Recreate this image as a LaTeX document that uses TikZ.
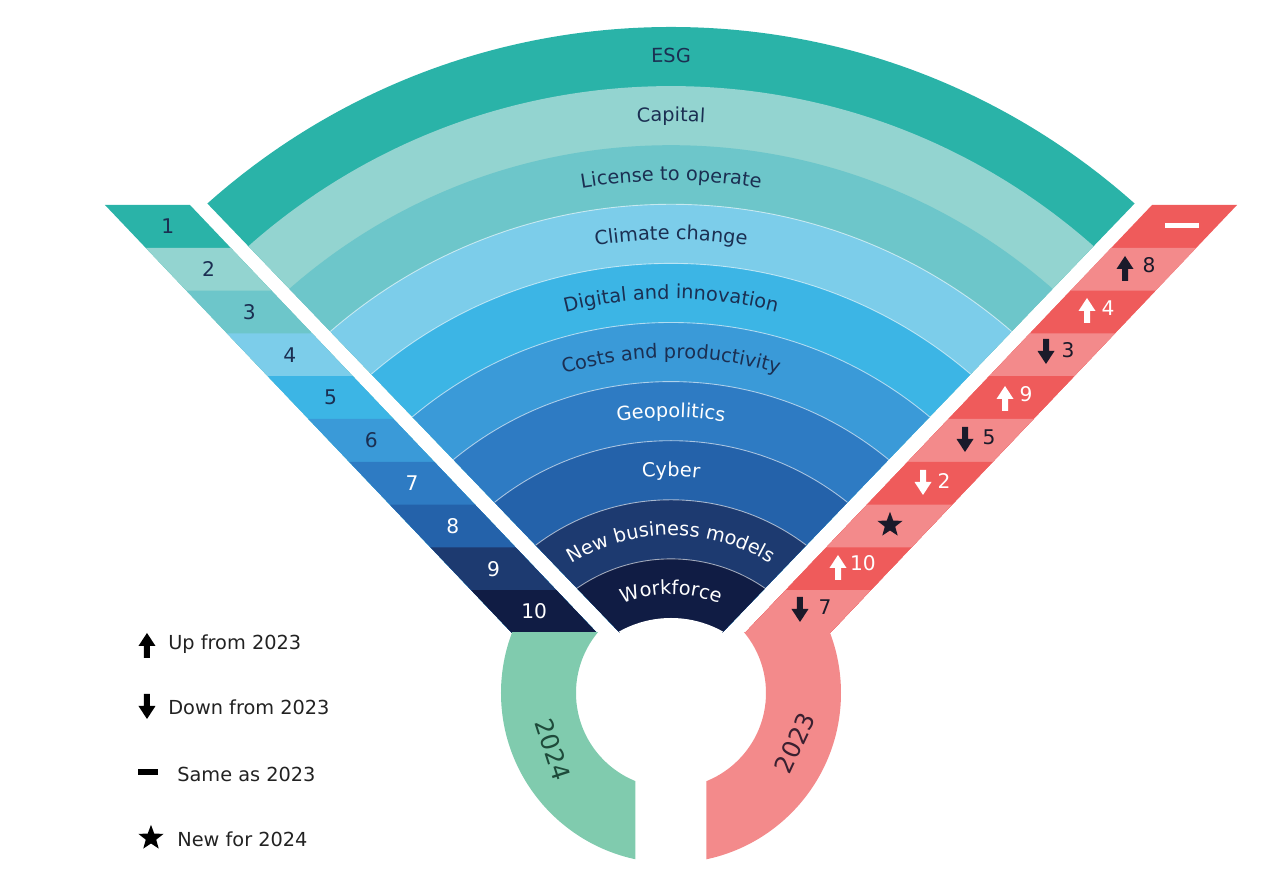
\documentclass[tikz,border=0pt]{standalone}
\usepackage{fontspec}
\setmainfont{DejaVu Sans}
\usetikzlibrary{decorations.text,shapes.geometric}
\definecolor{bA}{HTML}{2AB3A8}
\definecolor{bB}{HTML}{93D4D0}
\definecolor{bC}{HTML}{6DC6CA}
\definecolor{bD}{HTML}{7CCDEA}
\definecolor{bE}{HTML}{3CB5E5}
\definecolor{bF}{HTML}{3A9AD8}
\definecolor{bG}{HTML}{2E7BC3}
\definecolor{bH}{HTML}{2462AA}
\definecolor{bI}{HTML}{1D3A70}
\definecolor{bJ}{HTML}{101C44}
\definecolor{txtdark}{HTML}{1B2F52}
\definecolor{redA}{HTML}{EF5B5B}
\definecolor{redB}{HTML}{F38A8B}
\definecolor{ringgreen}{HTML}{80CBAE}
\definecolor{icondark}{HTML}{1A1A2A}
\definecolor{yeargreen}{HTML}{1E4A3A}
\definecolor{yearred}{HTML}{3A2030}
\definecolor{legtext}{HTML}{222222}
\newcommand\UpIcon[3]{\fill[#3,shift={(#1,#2)}] (-3,-13) -- (3,-13) -- (3,-1) -- (8.5,-1) -- (0,12) -- (-8.5,-1) -- (-3,-1) -- cycle;}
\newcommand\DownIcon[3]{\fill[#3,shift={(#1,#2)}] (-3,13) -- (3,13) -- (3,1) -- (8.5,1) -- (0,-12) -- (-8.5,1) -- (-3,1) -- cycle;}
\newcommand\BandText[3]{\path[decorate, decoration={text along path, text align=center, text={|\fontsize{11}{13}\selectfont\color{#2}|#3}}] (135:#1) arc[start angle=135, end angle=45, radius=#1];}
\tikzset{
  numlbl/.style={font=\fontsize{11.5}{13}\selectfont, inner sep=0pt},
  leglbl/.style={font=\fontsize{11}{13}\selectfont, anchor=west, inner sep=0pt, text=legtext},
  yearlbl/.style={font=\fontsize{14}{16}\selectfont, inner sep=0pt},
  staricon/.style={star, star points=5, star point ratio=2.4, inner sep=0pt, minimum size=15pt, fill=icondark},
}
\begin{document}
\begin{tikzpicture}[x=0.02cm,y=0.02cm]
\useasboundingbox (-671,-160) rectangle (604,724);
% ---- fan ----
\begin{scope}
  \clip (-51,91) -- (-712,779) -- (712,779) -- (51,91) -- cycle;
  \foreach \k/\c in {0/bA,1/bB,2/bC,3/bD,4/bE,5/bF,6/bG,7/bH,8/bI,9/bJ}
    {\fill[\c] (0,0) circle[radius={697-59.1*\k}];}
  \fill[white] (0,0) circle[radius=106];
  \foreach \k in {3,...,9}
    {\draw[white, line width=0.5pt, opacity=0.6] (0,0) circle[radius={697-59.1*\k}];}
\end{scope}
\BandText{661.5}{txtdark}{ESG}
\BandText{602.4}{txtdark}{Capital}
\BandText{543.3}{txtdark}{License to operate}
\BandText{484.2}{txtdark}{Climate change}
\BandText{425.1}{txtdark}{Digital and innovation}
\BandText{366}{txtdark}{Costs and productivity}
\BandText{306.9}{white}{Geopolitics}
\BandText{247.8}{white}{Cyber}
\BandText{188.7}{white}{New business models}
\BandText{129.6}{white}{Workforce}
% ---- left strip ----
\foreach \k/\c in {1/bA,2/bB,3/bC,4/bD,5/bE,6/bF,7/bG,8/bH,9/bI,10/bJ}{
  \pgfmathsetmacro\yt{519-42.8*(\k-1)}
  \pgfmathsetmacro\xot{-159-(\yt-91)*0.951}
  \pgfmathsetmacro\xit{-74-(\yt-91)*0.951}
  \fill[\c] (\xot,\yt) -- (\xit,\yt) -- (-74,91) -- (-159,91) -- cycle;
}
\foreach \k/\tc in {1/txtdark,2/txtdark,3/txtdark,4/txtdark,5/txtdark,6/txtdark,7/white,8/white,9/white,10/white}{
  \pgfmathsetmacro\yc{519-42.8*(\k-0.5)}
  \pgfmathsetmacro\xc{-116.5-(\yc-91)*0.951}
  \node[numlbl, text=\tc] (L\k) at (\xc,\yc) {\k};
}
% ---- right strip ----
\foreach \k/\c in {1/redA,2/redB,3/redA,4/redB,5/redA,6/redB,7/redA,8/redB,9/redA,10/redB}{
  \pgfmathsetmacro\yt{519-42.8*(\k-1)}
  \pgfmathsetmacro\xot{159+(\yt-91)*0.951}
  \pgfmathsetmacro\xit{74+(\yt-91)*0.951}
  \fill[\c] (\xit,\yt) -- (\xot,\yt) -- (159,91) -- (74,91) -- cycle;
}
% ---- rings ----
\begin{scope}
  \clip (-200,91) rectangle (-35.5,-200);
  \fill[ringgreen, even odd rule] (0,31) circle[radius=170] (0,31) circle[radius=95];
\end{scope}
\begin{scope}
  \clip (35.5,91) rectangle (200,-200);
  \fill[redB, even odd rule] (0,31) circle[radius=170] (0,31) circle[radius=95];
\end{scope}
\node[yearlbl, text=yeargreen, rotate=-72] (y24) at (-118,-26) {2024};
\node[yearlbl, text=yearred, rotate=65] (y23) at (124,-19) {2023};
% ---- right strip icons ----
\fill[white] (494,496) rectangle (528,501);
\UpIcon{454}{456}{icondark}
\node[numlbl, text=icondark] (R2) at (478,459) {8};
\UpIcon{416}{414}{white}
\node[numlbl, text=white] (R3) at (437,416) {4};
\DownIcon{375}{372}{icondark}
\node[numlbl, text=icondark] (R4) at (397,374) {3};
\UpIcon{334}{326}{white}
\node[numlbl, text=white] (R5) at (355,330) {9};
\DownIcon{294}{284}{icondark}
\node[numlbl, text=icondark] (R6) at (318,287) {5};
\DownIcon{252}{241}{white}
\node[numlbl, text=white] (R7) at (273,243) {2};
\node[staricon] (R8) at (219,199) {};
\UpIcon{167}{157}{white}
\node[numlbl, text=white] (R9) at (192,161) {10};
\DownIcon{129}{114}{icondark}
\node[numlbl, text=icondark] (R10) at (154,117) {7};
% ---- legend ----
\UpIcon{-524}{79}{black}
\node[leglbl] (lg1) at (-503,80) {Up from 2023};
\DownIcon{-524}{17}{black}
\node[leglbl] (lg2) at (-503,17) {Down from 2023};
\fill[black] (-533,-51) rectangle (-513,-45);
\node[leglbl] (lg3) at (-494,-50) {Same as 2023};
\node[staricon, fill=black] (lgs) at (-520,-114) {};
\node[leglbl] (lg4) at (-494,-115) {New for 2024};
\end{tikzpicture}
\end{document}
